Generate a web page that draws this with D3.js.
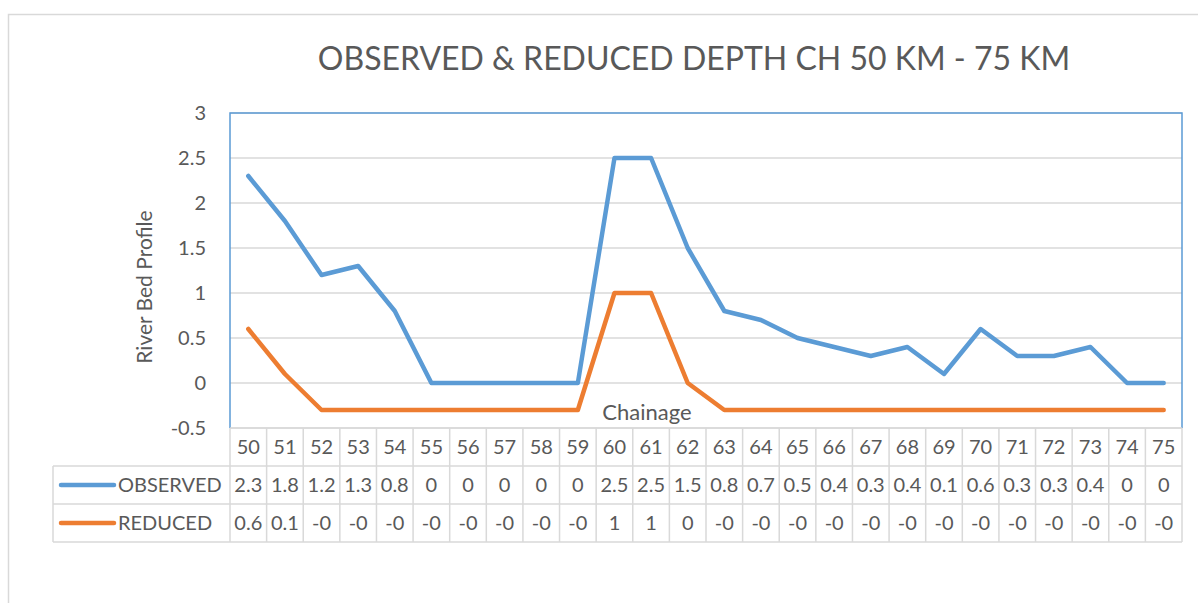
<!DOCTYPE html>
<html>
<head>
<meta charset="utf-8">
<script src="https://cdn.jsdelivr.net/npm/d3@7"></script>
<style>
  body { margin: 0; background: #fff; }
  text { font-family: "Lato", "Open Sans", sans-serif; fill: #595959; }
</style>
</head>
<body>
<svg id="canvas" width="1198" height="603"></svg>
<script>
// chart data
let chainage = [50, 51, 52, 53, 54, 55, 56, 57, 58, 59, 60, 61, 62, 63, 64, 65, 66, 67, 68, 69, 70, 71, 72, 73, 74, 75];
let observed = [2.3, 1.8, 1.2, 1.3, 0.8, 0, 0, 0, 0, 0, 2.5, 2.5, 1.5, 0.8, 0.7, 0.5, 0.4, 0.3, 0.4, 0.1, 0.6, 0.3, 0.3, 0.4, 0, 0];
let reduced = [0.6, 0.1, -0.3, -0.3, -0.3, -0.3, -0.3, -0.3, -0.3, -0.3, 1, 1, 0, -0.3, -0.3, -0.3, -0.3, -0.3, -0.3, -0.3, -0.3, -0.3, -0.3, -0.3, -0.3, -0.3];
// values as printed in the data table
let observedLabels = ["2.3", "1.8", "1.2", "1.3", "0.8", "0", "0", "0", "0", "0", "2.5", "2.5", "1.5", "0.8", "0.7", "0.5", "0.4", "0.3", "0.4", "0.1", "0.6", "0.3", "0.3", "0.4", "0", "0"];
let reducedLabels = ["0.6", "0.1", "-0", "-0", "-0", "-0", "-0", "-0", "-0", "-0", "1", "1", "0", "-0", "-0", "-0", "-0", "-0", "-0", "-0", "-0", "-0", "-0", "-0", "-0", "-0"];
let yTicks = [-0.5, 0, 0.5, 1, 1.5, 2, 2.5, 3];

let seriesNames = ["OBSERVED", "REDUCED"];
let colors = ["#5b9bd5", "#ed7d31"];

let plotLeft = 230, plotRight = 1182, plotTop = 113, plotBottom = 428;
let rowH = 38;
let legendLeft = 53;

let canvas = d3.select("#canvas");

// outer chart border
canvas.append("rect")
  .attr("x", 8.5).attr("y", 14.5)
  .attr("width", 1200).attr("height", 600)
  .attr("fill", "none").attr("stroke", "#d9d9d9").attr("stroke-width", 1.5);

let x = d3.scaleBand().domain(chainage).range([plotLeft, plotRight]);
let y = d3.scaleLinear().domain([-0.5, 3]).range([plotBottom, plotTop]);

// gridlines
canvas.append("g")
  .selectAll("line")
  .data(yTicks)
  .enter()
  .append("line")
  .attr("x1", plotLeft).attr("x2", plotRight)
  .attr("y1", d => y(d)).attr("y2", d => y(d))
  .attr("stroke", "#d9d9d9").attr("stroke-width", 1.5);

// plot area border (blue)
canvas.append("path")
  .attr("d", `M${plotLeft},${plotBottom} V${plotTop} H${plotRight} V${plotBottom}`)
  .attr("fill", "none").attr("stroke", "#5b9bd5").attr("stroke-width", 1.5);

// y axis
let yAxis = d3.axisLeft(y).tickValues(yTicks).tickSize(0).tickPadding(24)
  .tickFormat(d => d);
let yG = canvas.append("g").attr("transform", `translate(${plotLeft},0)`).call(yAxis);
yG.select(".domain").remove();
yG.selectAll("text").style("font-size", "20px").style("font-family", "Lato, sans-serif").attr("fill", "#595959");

// lines
let line = d3.line()
  .x((d, i) => x(chainage[i]) + x.bandwidth() / 2)
  .y(d => y(d));

[observed, reduced].forEach((series, k) => {
  canvas.append("path")
    .datum(series)
    .attr("d", line)
    .attr("fill", "none")
    .attr("stroke", colors[k])
    .attr("stroke-width", 4.5)
    .attr("stroke-linejoin", "round")
    .attr("stroke-linecap", "round");
});

// data table
let grid = canvas.append("g").attr("stroke", "#d9d9d9").attr("stroke-width", 1.5);
let tableBottom = plotBottom + rowH * 3;
grid.append("line").attr("x1", plotLeft).attr("x2", plotRight).attr("y1", plotBottom).attr("y2", plotBottom);
[1, 2, 3].forEach(r => {
  grid.append("line").attr("x1", legendLeft).attr("x2", plotRight)
    .attr("y1", plotBottom + rowH * r).attr("y2", plotBottom + rowH * r);
});
grid.append("line").attr("x1", legendLeft).attr("x2", legendLeft)
  .attr("y1", plotBottom + rowH).attr("y2", tableBottom);
grid.selectAll(".col")
  .data(chainage)
  .enter()
  .append("line")
  .attr("x1", d => x(d)).attr("x2", d => x(d))
  .attr("y1", plotBottom).attr("y2", tableBottom);
grid.append("line").attr("x1", plotRight).attr("x2", plotRight).attr("y1", plotBottom).attr("y2", tableBottom);

let cells = canvas.append("g").style("font-size", "20px").attr("text-anchor", "middle");
cells.selectAll(".hdr")
  .data(chainage)
  .enter()
  .append("text")
  .attr("x", d => x(d) + x.bandwidth() / 2)
  .attr("y", plotBottom + rowH / 2)
  .attr("dy", "0.36em")
  .text(d => d);

[observedLabels, reducedLabels].forEach((labels, k) => {
  cells.selectAll(".r" + k)
    .data(labels)
    .enter()
    .append("text")
    .attr("x", (d, i) => x(chainage[i]) + x.bandwidth() / 2)
    .attr("y", plotBottom + rowH * (k + 1) + rowH / 2)
    .attr("dy", "0.36em")
    .text(d => d);

  let cy = plotBottom + rowH * (k + 1) + rowH / 2;
  canvas.append("line")
    .attr("x1", 61).attr("x2", 114)
    .attr("y1", cy).attr("y2", cy)
    .attr("stroke", colors[k]).attr("stroke-width", 4.5)
    .attr("stroke-linecap", "round");
  canvas.append("text")
    .attr("x", 118).attr("y", cy).attr("dy", "0.36em")
    .style("font-size", "20px")
    .text(seriesNames[k]);
});

// titles
canvas.append("text")
  .attr("x", 694).attr("y", 70)
  .attr("text-anchor", "middle")
  .style("font-size", "32px")
  .text("OBSERVED & REDUCED DEPTH CH 50 KM - 75 KM");

canvas.append("text")
  .attr("x", 647).attr("y", 420)
  .attr("text-anchor", "middle")
  .style("font-size", "22px")
  .text("Chainage");

canvas.append("text")
  .attr("transform", "translate(152,287) rotate(-90)")
  .attr("text-anchor", "middle")
  .style("font-size", "21px")
  .text("River Bed Profile");
</script>
</body>
</html>
